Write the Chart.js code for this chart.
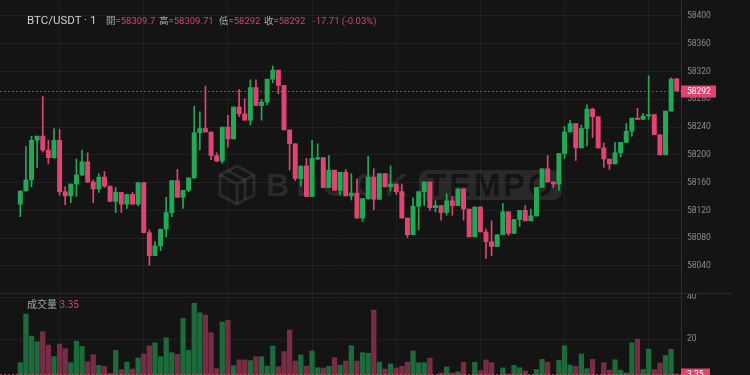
<!DOCTYPE html>
<html>
<head>
<meta charset="utf-8">
<script src="https://cdn.jsdelivr.net/npm/chart.js@4.4.1/dist/chart.umd.min.js"></script>
<style>
  html, body { margin: 0; padding: 0; background: #141414; overflow: hidden; }
  #wrap { position: relative; width: 750px; height: 375px; overflow: hidden;
          font-family: Roboto, "Noto Sans CJK TC", sans-serif; }
  canvas { position: absolute; left: 0; }
  #price { top: 0; }
  #vol { top: 294px; }
  .t { position: absolute; font-size: 9.5px; line-height: 1; white-space: nowrap; color: #a8a8a8; }
  .t b { font-weight: normal; color: #d0456d; }
  #sep { position: absolute; left: 0; top: 293px; width: 732px; height: 1px; background: #2a2a2c; }
  #wm { position: absolute; left: 216px; top: 163px; height: 44px; display: flex; align-items: center;
        font-family: "Liberation Sans", Arial, sans-serif; font-weight: bold; font-size: 32px; letter-spacing: 7px;
        color: rgba(255,255,255,0.09); }
  #wm .box { margin-left: 4px; padding: 0 6px 0 8px; border-radius: 9px; background: rgba(255,255,255,0.09);
             color: #141414; letter-spacing: 3px; line-height: 30px; }
</style>
</head>
<body>
<div id="wrap">
  <div id="wm">
    <svg width="42" height="44" viewBox="0 0 42 44" style="margin-right:8px">
      <g fill="none" stroke="rgba(255,255,255,0.09)" stroke-width="3">
        <path d="M21 3 L38 12 L38 32 L21 41 L4 32 L4 12 Z"/>
        <path d="M4 12 L21 21 L38 12 M21 21 L21 41"/>
        <path d="M12 8 L29 17 L29 36"/>
      </g>
    </svg>
    <span>BLOCK</span><span class="box">TEMPO</span>
  </div>
  <canvas id="price" width="750" height="293"></canvas>
  <div id="sep"></div>
  <canvas id="vol" width="750" height="87"></canvas>

  <div class="t" style="left:27px;top:15px;font-size:11.5px;color:#cfcfcf">BTC/USDT · 1</div>
  <div class="t" style="left:106px;top:16px">開=<b>58309.7</b></div>
  <div class="t" style="left:159px;top:16px">高=<b>58309.71</b></div>
  <div class="t" style="left:219px;top:16px">低=<b>58292</b></div>
  <div class="t" style="left:264px;top:16px">收=<b>58292</b></div>
  <div class="t" style="left:313px;top:16px"><b>-17.71 (-0.03%)</b></div>
  <div class="t" style="left:27px;top:300px;font-size:10px">成交量 <b>3.35</b></div>
</div>

<script>
// 1分鐘K線 (BTC/USDT)
const opens = [58129,58148,58164,58221,58227,58207,58196,58221,58147,58141,58158,58171,58190,58161,58151,58168,58155,58133,58146,58129,
  58143,58129,58160,58088,58055,58069,58093,58117,58163,58139,58149,58167,58232,58238,58233,58199,58191,58240,58223,58269,
  58259,58250,58297,58271,58276,58309,58322,58300,58236,58216,58166,58184,58140,58194,58196,58153,58178,58149,58175,58141,
  58145,58109,58137,58168,58136,58173,58154,58158,58147,58109,58085,58126,58147,58161,58124,58127,58117,58134,58127,58151,
  58122,58082,58125,58089,58075,58068,58085,58118,58087,58107,58120,58105,58112,58153,58180,58161,58158,58202,58233,58245,
  58210,58238,58266,58255,58210,58194,58187,58203,58218,58234,58253,58251,58256,58258,58229,58200,58263,58309.7];
const highs = [58148,58212,58227,58227,58284,58221,58238,58237,58154,58158,58194,58207,58203,58164,58173,58176,58155,58153,58146,58143,
  58146,58160,58160,58092,58075,58093,58139,58163,58179,58149,58167,58270,58262,58299,58233,58203,58240,58257,58269,58294,
  58281,58308,58308,58280,58309,58328,58322,58300,58236,58216,58184,58195,58221,58216,58196,58199,58178,58175,58179,58173,
  58165,58137,58198,58180,58173,58173,58184,58158,58158,58109,58138,58147,58161,58161,58134,58127,58144,58140,58151,58151,
  58122,58125,58125,58093,58105,58085,58130,58118,58107,58120,58127,58122,58153,58180,58199,58161,58202,58241,58250,58245,
  58243,58272,58267,58255,58217,58194,58218,58218,58245,58253,58267,58260,58314,58258,58229,58263,58311,58309.71];
const lows = [58111,58148,58154,58182,58204,58187,58195,58142,58128,58131,58140,58170,58160,58131,58146,58153,58133,58117,58117,58123,
  58129,58127,58088,58041,58055,58062,58082,58111,58139,58123,58147,58166,58207,58233,58193,58190,58188,58211,58223,58255,
  58250,58243,58271,58250,58272,58304,58288,58236,58178,58163,58155,58140,58140,58193,58153,58153,58149,58142,58141,58135,
  58109,58104,58136,58121,58136,58154,58148,58143,58109,58081,58085,58092,58127,58120,58118,58106,58113,58113,58127,58106,
  58082,58082,58089,58051,58055,58068,58085,58084,58087,58097,58105,58105,58112,58153,58161,58153,58149,58195,58233,58192,
  58210,58213,58225,58210,58182,58179,58187,58197,58218,58227,58251,58251,58251,58229,58200,58200,58263,58292];
const closes = [58148,58164,58221,58227,58207,58196,58221,58147,58141,58158,58171,58190,58161,58151,58168,58155,58133,58146,58129,58143,
  58129,58160,58088,58055,58069,58093,58117,58163,58139,58149,58167,58232,58238,58233,58199,58191,58240,58223,58269,58259,
  58250,58297,58271,58276,58309,58322,58300,58236,58216,58166,58184,58140,58195,58196,58153,58178,58149,58175,58141,58145,
  58109,58137,58168,58136,58173,58154,58158,58147,58109,58085,58126,58147,58161,58124,58127,58117,58134,58127,58151,58122,
  58082,58125,58089,58075,58068,58085,58118,58087,58107,58120,58105,58112,58153,58180,58161,58158,58202,58233,58245,58210,
  58238,58266,58255,58210,58194,58187,58203,58218,58234,58253,58251,58256,58258,58229,58200,58263,58309,58292];
const volumes = [8.7,31.9,21.4,18.7,23.5,17.1,11.6,17.6,15.4,8.7,19.0,16.5,9.2,12.5,7.4,7.0,3.6,14.6,5.4,9.0,
  5.7,11.0,12.9,16.7,18.2,11.6,20.6,13.5,12.7,29.8,14.6,37.0,32.5,31.4,23.0,5.9,28.1,28.9,7.3,10.1,
  10.0,9.7,11.6,11.6,7.1,16.7,6.8,14.0,24.3,9.5,12.4,7.1,14.3,6.3,6.2,7.0,11.1,7.6,9.5,16.8,
  9.5,13.5,13.2,33.8,9.0,5.7,8.1,6.2,7.0,9.0,14.3,8.7,8.7,10.9,2.5,3.8,6.7,3.8,4.4,8.9,
  2.5,8.9,4.9,10.0,8.7,2.2,6.2,3.3,7.4,6.3,4.7,2.2,5.5,10.3,9.0,2.2,9.8,16.8,7.6,7.0,
  12.9,5.9,10.3,2.2,8.7,5.2,10.1,5.2,3.8,18.2,20.0,5.5,15.2,5.5,8.6,12.2,15.1,3.35];
const priceTicks = [58040, 58080, 58120, 58160, 58200, 58240, 58280, 58320, 58360, 58400];
const volumeTicks = [20, 40];
const gridSlots = [7, 22, 37, 52, 67, 82, 97, 112];

const UP = '#22a957', DOWN = '#e04470';
const UP_VOL = '#1d6a3b', DOWN_VOL = '#7b2c45';
const GRID = 'rgba(255,255,255,0.055)';
const TICK = '#8a8a8a';

const slots = opens.map((_, i) => i);
const isUp = slots.map(i => closes[i] >= opens[i]);
const lastClose = closes[closes.length - 1];
const lastVol = volumes[volumes.length - 1];

function xScale() {
  return {
    type: 'linear', min: -3.62, max: 117.76, offset: false,
    grid: { color: GRID, drawTicks: false, offset: false },
    border: { display: false },
    ticks: { display: false },
    afterBuildTicks: s => { s.ticks = gridSlots.map(v => ({ value: v })); },
    afterFit: s => { s.height = 0; s.paddingLeft = 0; s.paddingRight = 0; }
  };
}
function yScale(min, max, ticks) {
  return {
    position: 'right', min, max,
    grid: { color: GRID, drawTicks: false },
    border: { display: true, color: '#2b2f3a' },
    ticks: { color: TICK, padding: 6, font: { family: 'Roboto', size: 8.5 }, callback: v => String(v) },
    afterBuildTicks: s => { s.ticks = ticks.map(v => ({ value: v })); },
    afterFit: s => { s.width = 69; s.paddingTop = 0; s.paddingBottom = 0; }
  };
}

// punktierte Linie + Preisetikett rechts
const lastMark = {
  id: 'lastMark',
  afterDraw(chart, args, o) {
    const { ctx, chartArea, scales } = chart;
    const y = Math.round(scales.y.getPixelForValue(o.value)) + 0.5;
    ctx.save();
    ctx.strokeStyle = 'rgba(224,68,112,0.75)';
    ctx.lineWidth = 1;
    ctx.setLineDash([2, 2]);
    ctx.beginPath(); ctx.moveTo(chartArea.left, y); ctx.lineTo(chartArea.right, y); ctx.stroke();
    ctx.setLineDash([]);
    ctx.fillStyle = DOWN;
    ctx.fillRect(chartArea.right, y - 6, o.w, 12);
    ctx.fillStyle = '#ffffff';
    ctx.font = '8.5px Roboto';
    ctx.textBaseline = 'middle';
    ctx.fillText(o.text, chartArea.right + 6, y + 0.5);
    ctx.restore();
  }
};

new Chart(document.getElementById('price'), {
  type: 'bar',
  data: {
    datasets: [
      {
        data: slots.map(i => ({ x: i, y: [opens[i], closes[i]] })),
        backgroundColor: slots.map(i => isUp[i] ? UP : DOWN),
        barThickness: 4.3, minBarLength: 1, grouped: false, borderWidth: 0
      },
      {
        data: slots.map(i => ({ x: i, y: [lows[i], highs[i]] })),
        backgroundColor: slots.map(i => isUp[i] ? UP : DOWN),
        barThickness: 1, grouped: false, borderWidth: 0
      }
    ]
  },
  options: {
    responsive: false, animation: false, devicePixelRatio: 1,
    layout: { padding: 0 },
    plugins: { legend: { display: false }, tooltip: { enabled: false },
               lastMark: { value: lastClose, text: String(lastClose), w: 35 } },
    scales: { x: xScale(), y: yScale(58001.1, 58423.04, priceTicks) }
  },
  plugins: [lastMark]
});

new Chart(document.getElementById('vol'), {
  type: 'bar',
  data: {
    datasets: [{
      data: slots.map(i => ({ x: i, y: volumes[i] })),
      backgroundColor: slots.map(i => isUp[i] ? UP_VOL : DOWN_VOL),
      barThickness: 4.6, grouped: false, borderWidth: 0
    }]
  },
  options: {
    responsive: false, animation: false, devicePixelRatio: 1,
    layout: { padding: 0 },
    plugins: { legend: { display: false }, tooltip: { enabled: false },
               lastMark: { value: lastVol, text: String(lastVol), w: 29 } },
    scales: { x: xScale(), y: yScale(0, 41.43, volumeTicks) }
  },
  plugins: [lastMark]
});
</script>
</body>
</html>
